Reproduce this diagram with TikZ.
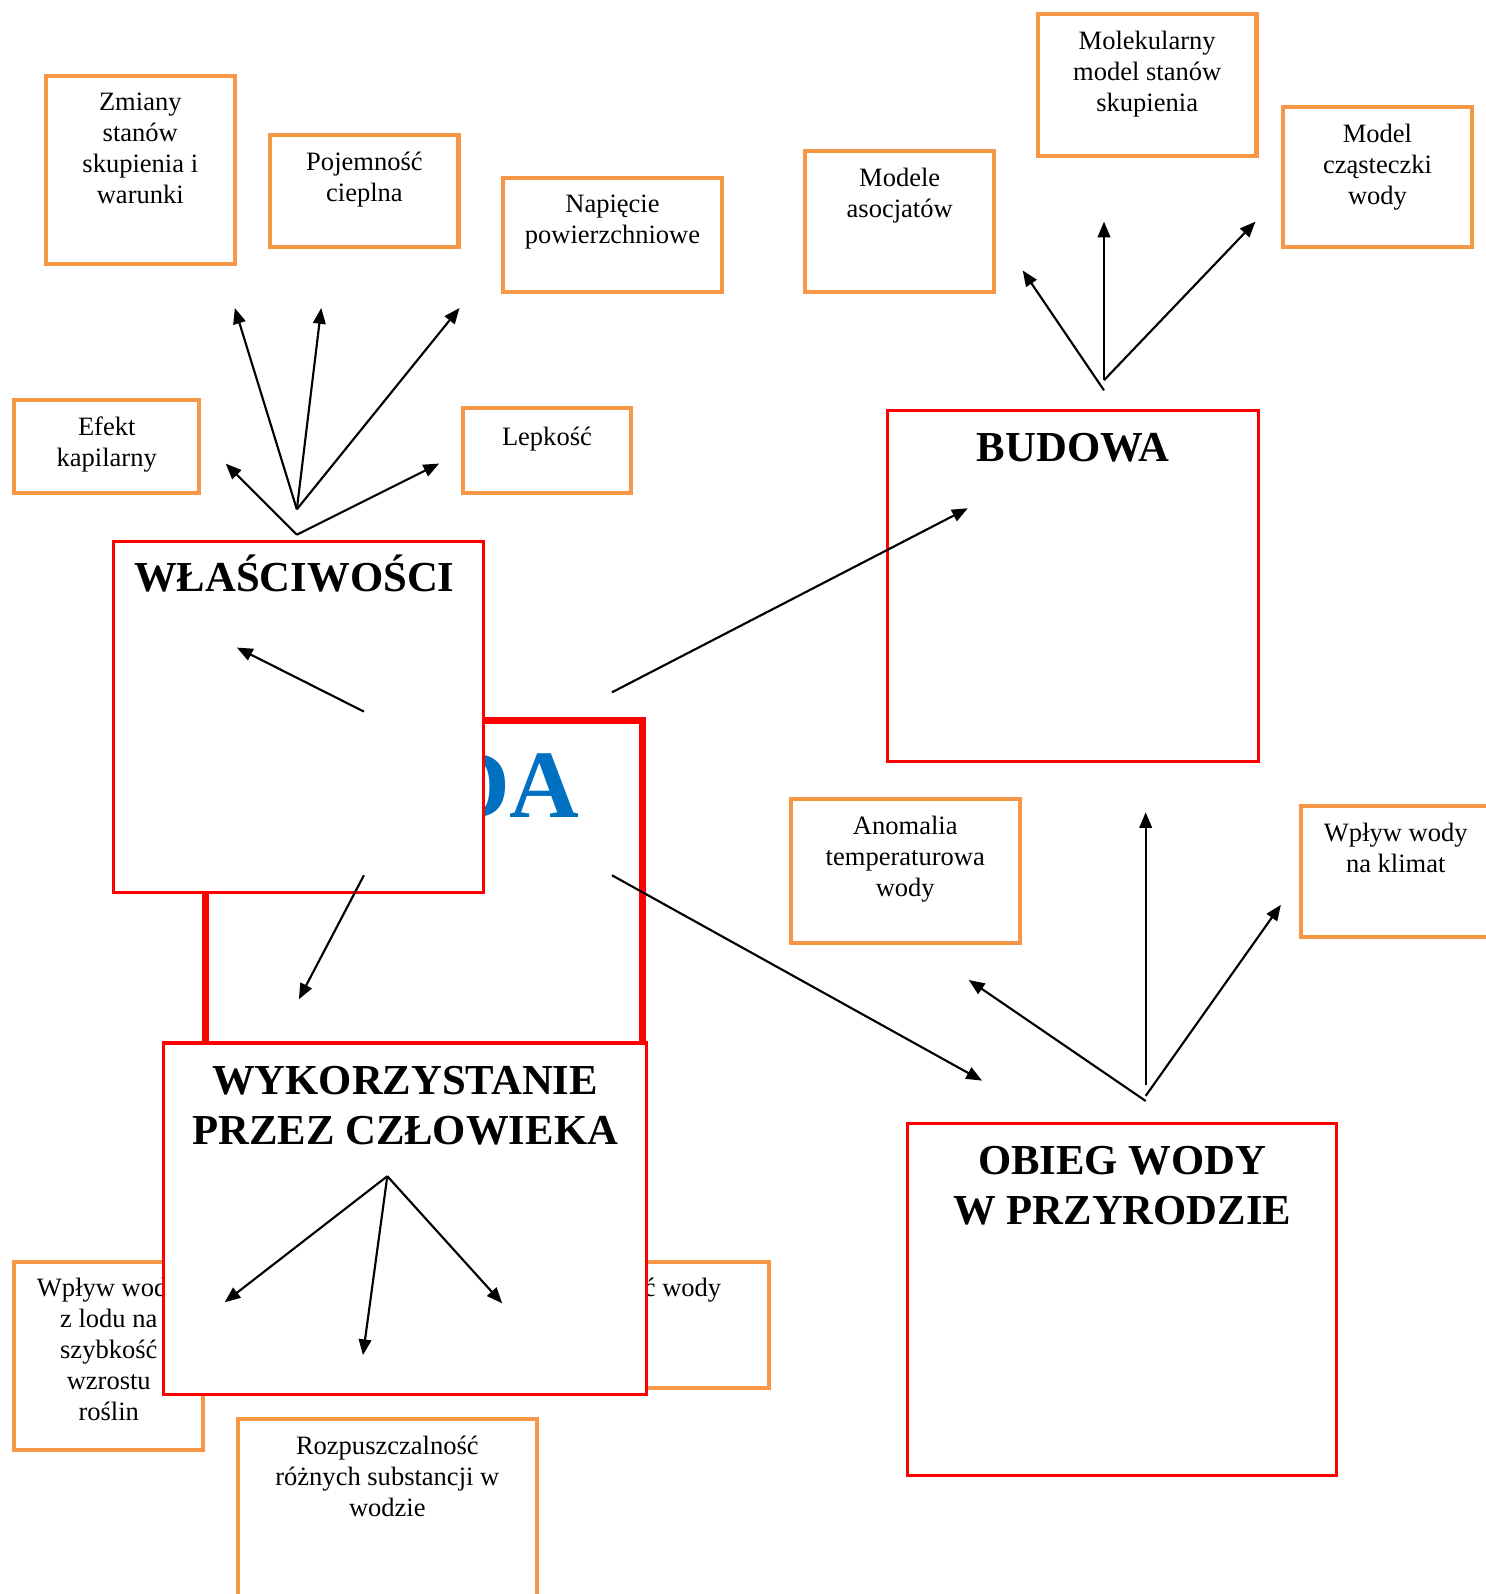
\documentclass[tikz,border=0pt]{standalone}
\usepackage{fontspec}
\setmainfont{Liberation Serif}
\usetikzlibrary{arrows.meta,fit}
\definecolor{boxorange}{HTML}{F79646}
\definecolor{boxred}{HTML}{FF0000}
\definecolor{wodablue}{HTML}{0070C0}

\begin{document}
\begin{tikzpicture}
	[
	x=0.4523pt, y=-0.4523pt,
	>={Triangle[length=7pt,width=5.6pt]},
	obox/.style={draw = boxorange, line width = 1.8pt, fill = white, inner sep = 0pt, outer sep = 0pt},
	rbox/.style={draw = boxred, line width = 1.4pt, fill = white, inner sep = 0pt, outer sep = 0pt},
	txt/.style={anchor = north, yshift = -7.3pt, inner sep = 0pt, align = center, font = \fontsize{11.8}{13.8}\selectfont},
	ttl/.style={anchor = north, yshift = -10pt, inner sep = 0pt, align = center, font = \fontsize{19}{22.2}\selectfont\bfseries},
	arr/.style={->, line width = 0.95pt}
	]

	\useasboundingbox (0,0) rectangle (1461,1568);

	% small boxes
	\node[obox, fit={(45,75) (231,260)}, label={[txt]north:Zmiany\\stanów\\skupienia i\\warunki}](zmiany){};
	\node[obox, fit={(266,133) (451,243)}, label={[txt]north:Pojemność\\cieplna}](pojemnosc){};
	\node[obox, fit={(495,175) (710,287)}, label={[txt]north:Napięcie\\powierzchniowe}](napiecie){};
	\node[obox, fit={(14,393) (196,485)}, label={[txt]north:Efekt\\kapilarny}](efekt){};
	\node[obox, fit={(455,401) (621,485)}, label={[txt, yshift=-1pt]north:Lepkość}](lepkosc){};

	\node[obox, fit={(792,149) (978,287)}, label={[txt]north:Modele\\asocjatów}](modele){};
	\node[obox, fit={(1021,14) (1236,153)}, label={[txt]north:Molekularny\\model stanów\\skupienia}](molekularny){};
	\node[obox, fit={(1262,105) (1448,243)}, label={[txt]north:Model\\cząsteczki\\wody}](model){};

	\node[obox, fit={(778,786) (1003,928)}, label={[txt]north:Anomalia\\temperaturowa\\wody}](anomalia){};
	\node[obox, fit={(1280,793) (1466,922)}, label={[txt]north:Wpływ wody\\na klimat}](klimat){};

	\node[obox, fit={(14,1241) (200,1426)}, label={[txt]north:Wpływ wody\\z lodu na\\szybkość\\wzrostu\\roślin}](lod){};
	\node[obox, fit={(560,1241) (756,1365)}, label={[txt, anchor=north west, xshift=33pt]north west:ć wody}](wody){};
	\node[obox, fit={(234,1396) (528,1610)}, label={[txt]north:Rozpuszczalność\\różnych substancji w\\wodzie}](rozp){};

	% main boxes
	\node[rbox, fit={(873,404) (1238,749)}, label={[ttl]north:BUDOWA}](budowa){};
	\node[rbox, fit={(893,1105) (1315,1451)}, label={[ttl]north:OBIEG WODY\\W PRZYRODZIE}](obieg){};
	\node[rbox, line width = 3.2pt, fit={(202,709) (632,1040)}, label={[ttl, yshift=-4.5pt, text=wodablue, font=\fontsize{43}{47}\selectfont\bfseries]north:WODA}](woda){};
	\node[rbox, fit={(112,533) (476,878)}, label={[ttl, yshift=4.2pt, xshift=-2pt]north:WŁAŚCIWOŚCI}](wlasciwosci){};
	\node[rbox, fit={(161,1026) (636,1372)}, label={[ttl]north:WYKORZYSTANIE\\PRZEZ CZŁOWIEKA}](wykorzystanie){};

	% arrow ends
	\coordinate (w0) at (292,501);
	\coordinate (w1) at (292,526);
	\coordinate (wz) at (231,303);
	\coordinate (wp) at (316,303);
	\coordinate (wn) at (452,303);
	\coordinate (we) at (222,456);
	\coordinate (wl) at (432,456);

	\coordinate (b0) at (1086,384);
	\coordinate (b1) at (1086,374);
	\coordinate (bm) at (1006,266);
	\coordinate (bk) at (1086,218);
	\coordinate (bc) at (1235,218);

	\coordinate (o0) at (1127,1083);
	\coordinate (o1) at (1127,1067);
	\coordinate (o2) at (1127,1078);
	\coordinate (oa) at (953,964);
	\coordinate (ok) at (1127,799);
	\coordinate (oc) at (1260,890);

	\coordinate (k0) at (381,1157);
	\coordinate (ka) at (221,1281);
	\coordinate (kb) at (357,1333);
	\coordinate (kc) at (494,1282);

	\coordinate (s1) at (358,700);
	\coordinate (e1) at (233,637);
	\coordinate (s2) at (602,681);
	\coordinate (e2) at (952,500);
	\coordinate (s3) at (358,861);
	\coordinate (e3) at (294,983);
	\coordinate (s4) at (602,861);
	\coordinate (e4) at (966,1063);

	\draw[arr] (w0) -- (wz);
	\draw[arr] (w0) -- (wp);
	\draw[arr] (w0) -- (wn);
	\draw[arr] (w1) -- (we);
	\draw[arr] (w1) -- (wl);

	\draw[arr] (b0) -- (bm);
	\draw[arr] (b1) -- (bk);
	\draw[arr] (b1) -- (bc);

	\draw[arr] (o0) -- (oa);
	\draw[arr] (o1) -- (ok);
	\draw[arr] (o2) -- (oc);

	\draw[arr] (k0) -- (ka);
	\draw[arr] (k0) -- (kb);
	\draw[arr] (k0) -- (kc);

	\draw[arr] (s1) -- (e1);
	\draw[arr] (s2) -- (e2);
	\draw[arr] (s3) -- (e3);
	\draw[arr] (s4) -- (e4);
\end{tikzpicture}
\end{document}
